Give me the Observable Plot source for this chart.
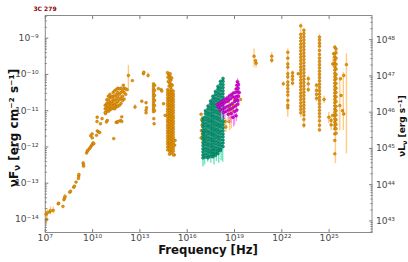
<!DOCTYPE html>
<html><head><meta charset="utf-8">
<script src="https://cdn.jsdelivr.net/npm/d3@7"></script>
<script src="https://cdn.jsdelivr.net/npm/@observablehq/plot@0.6"></script>
<style>body{margin:0;background:#fff}svg{font-family:"DejaVu Sans",sans-serif}</style>
</head><body><div id="chart"></div>
<script>
// ---- labels & ticks ----
const title = "3C 279";
const xLabel = "Frequency [Hz]";
const xTickExps = [7, 10, 13, 16, 19, 22, 25];
const yTickExps = [-14, -13, -12, -11, -10, -9];
const lumTickExps = [43, 44, 45, 46, 47, 48];
const lumOffsetLog = 57.04; // log10(4 pi d^2)

// ---- data (log10 nu, log10 nuFnu) ----
const orangeRadioPts = [[7.08,-14.0],[7.05,-13.86],[7.12,-13.82],[7.28,-13.79],[7.32,-13.76],[7.5,-13.75],[7.82,-13.57],[7.85,-13.55],[8.12,-13.64],[8.18,-13.46],[8.22,-13.41],[8.26,-13.37],[8.55,-13.25],[8.6,-13.22],[8.8,-13.11],[8.85,-13.08],[8.95,-12.97],[9.1,-12.87],[9.12,-12.8],[9.13,-12.76],[9.4,-12.44],[9.42,-12.49],[9.43,-12.53],[9.62,-12.17],[9.66,-12.12],[9.7,-12.09],[9.8,-12.05],[9.86,-12.01],[9.92,-11.97],[9.98,-11.93],[10.03,-11.89],[10.08,-11.91],[9.88,-11.69],[9.97,-11.64],[9.98,-11.75],[10.25,-11.68],[10.3,-11.56],[10.39,-11.59],[10.45,-11.6],[10.28,-11.3],[10.29,-11.18],[10.5,-11.36],[10.6,-11.22],[10.82,-11.08],[10.93,-11.27],[10.88,-11.31],[11.34,-11.77],[11.5,-11.32],[11.56,-11.32],[11.62,-11.3],[11.77,-11.27],[11.85,-11.17],[11.85,-11.3]];
const orangeMmCols = [[10.8,[-11.05,-10.95,-10.85]],[10.9,[-11.0,-10.9,-10.8,-10.7]],[11.0,[-11.02,-10.92,-10.82,-10.72,-10.6]],[11.1,[-10.98,-10.88,-10.78,-10.65,-10.55]],[11.2,[-10.95,-10.85,-10.75,-10.62]],[11.3,[-10.92,-10.8,-10.7,-10.6,-10.5]],[11.4,[-10.95,-10.85,-10.72,-10.6,-10.45]],[11.5,[-10.9,-10.8,-10.68,-10.55,-10.42]],[11.6,[-10.88,-10.75,-10.62,-10.5,-10.38]],[11.7,[-10.85,-10.7,-10.55,-10.4]],[11.8,[-10.8,-10.65,-10.5,-10.38]],[11.9,[-10.72,-10.6,-10.45]],[12.0,[-10.68,-10.5,-10.38]],[12.1,[-10.55,-10.4]],[12.2,[-10.42]]];
const orangeIrPts = [[12.27,-10.03],[12.52,-10.17],[11.95,-10.3],[12.69,-10.9],[13.22,-9.98],[13.25,-9.94],[13.52,-10.03],[13.12,-10.74],[13.39,-10.78],[13.39,-10.99],[13.39,-11.06],[13.42,-10.92],[13.88,-11.22],[13.9,-11.36],[14.17,-10.39],[14.35,-10.42],[14.39,-10.46],[14.5,-10.81],[14.6,-11.13],[14.75,-9.95],[14.82,-10.0],[14.9,-10.04],[14.78,-10.08],[14.88,-10.12],[14.96,-10.16],[14.8,-10.2],[14.9,-10.24],[15.0,-10.28],[14.85,-10.32],[14.95,-10.36],[15.05,-10.3],[14.92,-9.98],[15.02,-10.1],[15.23,-11.82],[15.2,-11.95],[15.18,-12.22]];
const orangeOptCols = [[13.86,[-10.26,-10.33,-10.4,-10.47,-10.54,-10.61,-10.68,-10.75,-10.82,-10.89,-10.96,-11.03]],[13.93,[-10.3,-10.44,-10.58,-10.72,-10.86,-11.0]],[14.76,[-10.42,-10.5,-10.57,-10.65,-10.72,-10.8,-10.87,-10.95,-11.02,-11.1,-11.17,-11.25,-11.32,-11.4,-11.47,-11.55,-11.62,-11.7,-11.77,-11.85,-11.92,-12.0,-12.08]],[14.88,[-10.46,-10.54,-10.61,-10.69,-10.76,-10.84,-10.91,-10.99,-11.06,-11.14,-11.21,-11.29,-11.36,-11.44,-11.51,-11.59,-11.66,-11.74,-11.81,-11.89,-11.96,-12.04,-12.12,-12.2]],[15.0,[-10.42,-10.5,-10.57,-10.65,-10.72,-10.8,-10.87,-10.95,-11.02,-11.1,-11.17,-11.25,-11.32,-11.4,-11.47,-11.55,-11.62,-11.7,-11.77,-11.85,-11.92,-12.0,-12.08,-12.16]],[15.12,[-10.46,-10.54,-10.61,-10.69,-10.76,-10.84,-10.91,-10.99,-11.06,-11.14,-11.21,-11.29,-11.36,-11.44,-11.51,-11.59,-11.66,-11.74,-11.81,-11.89,-11.96,-12.04,-12.12,-12.22]]];
const orangeXrayPts = [[16.88,-11.1],[16.92,-11.25],[16.95,-11.4],[16.9,-11.55],[16.97,-11.65],[16.88,-11.75],[17.1,-11.82],[16.98,-11.3],[17.05,-11.6],[17.68,-12.1],[18.6,-10.75],[18.68,-10.9],[18.72,-11.05],[18.78,-11.2],[18.65,-11.3],[18.85,-11.0],[18.9,-10.85],[18.4,-11.3],[18.45,-11.45],[19.0,-10.7],[19.1,-10.85],[19.38,-10.69]];
const gammaPts = [[20.24,-9.5],[20.37,-9.69],[20.33,-9.62],[21.36,-9.5],[21.36,-9.61],[22.1,-10.26],[23.04,-9.98],[23.68,-10.12],[23.68,-10.26],[23.68,-10.42],[24.68,-10.69],[25.23,-9.71],[25.29,-9.43],[25.72,-10.12],[25.93,-10.03],[26.1,-9.73],[25.76,-10.58],[25.85,-11.0],[25.93,-11.09],[25.68,-10.86],[24.98,-11.18],[25.13,-11.27],[25.13,-11.39],[25.23,-11.13]];
const gammaCols = [[22.38,[-9.39,-9.55,-9.71,-9.8,-9.98,-10.07,-10.21,-10.3,-10.39,-10.48,-10.57,-10.72,-10.85,-10.92]],[22.68,[-9.96,-10.05,-10.14,-10.24]],[24.2,[-10.3,-10.44,-10.55,-10.66]],[23.2,[-8.66,-8.9,-8.99,-9.08,-9.17,-9.26,-9.35,-9.44,-9.53,-9.62,-9.71,-9.8,-9.89,-9.98,-10.07,-10.16,-10.25,-10.34,-10.43,-10.52,-10.61,-10.7,-10.79,-10.88,-10.97,-11.06]],[23.4,[-8.78,-8.87,-8.96,-9.05,-9.14,-9.23,-9.32,-9.41,-9.5,-9.59,-9.68,-9.77,-9.86,-9.95,-10.04,-10.13,-10.22,-10.31,-10.4,-10.49,-10.58,-10.67,-10.76,-10.85,-10.94,-11.03,-11.12,-11.24,-11.4]],[24.39,[-8.97,-9.05,-9.14,-9.22,-9.34,-9.45,-9.55,-9.64,-9.73,-9.82,-9.91,-10.0,-10.09,-10.18,-10.27,-10.36,-10.45,-10.54,-10.63,-10.72,-10.81,-10.9,-10.99,-11.08,-11.17,-11.28,-11.4,-11.53]],[25.36,[-9.25,-9.43,-9.52,-9.61,-9.7,-9.79,-9.88,-9.97,-10.06,-10.15,-10.24,-10.33,-10.42,-10.51,-10.6,-10.69,-10.78,-10.87,-10.96,-11.05,-11.14,-11.23,-11.32,-11.41,-11.5,-11.64,-11.82,-12.19]],[25.44,[-9.3,-9.4,-9.55,-9.72,-9.85,-10.0,-10.12,-10.25,-10.38,-10.5,-10.62,-10.75,-10.88,-11.0,-11.12,-11.25,-11.38,-11.5,-11.62]]];
const orangeErr = [[7.08,-14.12,-13.88],[7.12,-13.95,-13.7],[7.32,-13.88,-13.66],[7.5,-13.85,-13.66],[8.2,-13.5,-13.32],[8.24,-13.48,-13.3],[12.27,-10.39,-9.75],[13.52,-10.1,-9.95],[12.69,-10.97,-10.83],[17.05,-12.05,-11.5],[18.7,-11.55,-10.9],[18.8,-11.5,-11.0],[18.45,-11.6,-11.2],[20.24,-9.8,-9.3],[20.37,-9.82,-9.6],[21.36,-9.7,-9.4],[22.38,-11.18,-9.3],[22.1,-10.32,-10.2],[22.68,-10.32,-9.9],[23.2,-11.2,-8.6],[23.4,-11.5,-8.75],[24.39,-11.6,-8.9],[25.4,-12.46,-9.2],[25.68,-11.55,-10.17],[25.9,-11.55,-9.94],[26.1,-12.19,-9.43],[24.98,-11.35,-11.05],[25.13,-11.55,-11.15],[25.25,-9.8,-9.5],[24.2,-10.75,-10.25],[24.68,-10.8,-10.6],[23.68,-10.5,-10.05]];
const greenCols = [[17.0,[-11.2,-11.28,-11.37,-11.45,-11.54,-11.62,-11.71,-11.79,-11.88,-11.96,-12.05,-12.13,-12.22,-12.3]],[17.16,[-11.0,-11.08,-11.17,-11.25,-11.34,-11.42,-11.51,-11.59,-11.68,-11.76,-11.85,-11.93,-12.02,-12.1,-12.19,-12.28]],[17.32,[-10.87,-10.95,-11.04,-11.12,-11.21,-11.29,-11.38,-11.46,-11.55,-11.63,-11.72,-11.8,-11.89,-11.97,-12.06,-12.14,-12.23,-12.3]],[17.48,[-10.73,-10.81,-10.9,-10.98,-11.07,-11.15,-11.24,-11.32,-11.41,-11.49,-11.58,-11.66,-11.75,-11.83,-11.92,-12.0,-12.09,-12.17,-12.26]],[17.63,[-10.6,-10.68,-10.77,-10.85,-10.94,-11.02,-11.11,-11.19,-11.28,-11.36,-11.45,-11.53,-11.62,-11.7,-11.79,-11.87,-11.96,-12.04,-12.13,-12.21,-12.27]],[17.79,[-10.47,-10.55,-10.64,-10.72,-10.81,-10.89,-10.98,-11.06,-11.15,-11.23,-11.32,-11.4,-11.49,-11.57,-11.66,-11.74,-11.83,-11.91,-12.0,-12.08,-12.17,-12.23]],[17.95,[-10.33,-10.41,-10.5,-10.58,-10.67,-10.75,-10.84,-10.92,-11.01,-11.09,-11.18,-11.26,-11.35,-11.43,-11.52,-11.6,-11.69,-11.77,-11.86,-11.94,-12.03,-12.11,-12.18]],[18.11,[-10.19,-10.27,-10.36,-10.44,-10.53,-10.61,-10.7,-10.78,-10.87,-10.95,-11.04,-11.12,-11.21,-11.29,-11.38,-11.46,-11.55,-11.63,-11.72,-11.8,-11.89,-11.97,-12.06,-12.1]],[18.27,[-10.11,-10.19,-10.28,-10.36,-10.45,-10.53,-10.62,-10.7,-10.79,-10.87,-10.96,-11.04,-11.13,-11.21,-11.3,-11.38,-11.47,-11.55,-11.64,-11.72,-11.81,-11.89,-11.99]]];
const greenErr = [[17.0,-12.55,-12.15],[17.1,-12.5,-12.2],[17.3,-12.42,-12.2],[17.5,-12.45,-12.15],[17.7,-12.5,-12.1],[17.85,-12.4,-12.1],[18.0,-12.45,-12.0],[18.15,-12.38,-11.95],[18.25,-12.42,-11.9]];
const magentaPts = [[17.92,-10.83],[18.05,-10.8],[18.17,-10.76],[18.3,-10.72],[18.43,-10.68],[18.55,-10.64],[18.68,-10.59],[18.81,-10.55],[18.93,-10.51],[17.98,-10.9],[18.1,-10.86],[18.23,-10.83],[18.36,-10.79],[18.49,-10.75],[18.62,-10.71],[18.75,-10.67],[18.88,-10.62],[18.1,-10.98],[18.25,-10.95],[18.4,-10.92],[18.55,-10.88],[18.7,-10.84],[18.85,-10.8],[19.0,-10.75],[19.15,-10.7],[18.3,-11.05],[18.45,-11.02],[18.6,-10.98],[18.75,-10.95],[18.9,-10.92],[19.05,-10.88],[19.2,-10.82],[18.6,-11.1],[18.8,-11.08],[19.0,-11.02],[19.15,-10.98],[18.9,-11.18],[19.1,-11.14],[19.0,-10.62],[19.05,-10.5],[19.1,-10.4],[19.15,-10.3],[19.18,-10.2],[19.15,-10.6],[19.2,-10.48],[19.22,-10.38],[19.25,-10.28],[19.25,-10.6],[19.3,-10.5],[19.2,-10.72],[19.08,-10.7]];
const magentaErr = [[18.2,-11.25,-10.9],[18.4,-11.2,-10.85],[18.6,-11.3,-10.95],[18.8,-11.35,-11.0],[19.0,-11.4,-11.0],[19.12,-11.3,-10.95],[19.2,-10.9,-10.12],[19.28,-10.85,-10.2],[18.95,-11.45,-11.1]];

// ---- build tables ----
const P = (a, b) => ({nu: 10 ** a, f: 10 ** b});
const fromCols = cols => cols.flatMap(([a, fs]) => fs.map(b => P(a, b)));
const fromPts = pts => pts.map(([a, b]) => P(a, b));
const fromErr = es => es.map(([a, lo, hi]) => ({nu: 10 ** a, lo: 10 ** lo, hi: 10 ** hi}));
const orange = [...fromPts(orangeRadioPts), ...fromCols(orangeMmCols), ...fromPts(orangeIrPts), ...fromCols(orangeOptCols), ...fromPts(orangeXrayPts), ...fromPts(gammaPts), ...fromCols(gammaCols)];
const green = fromCols(greenCols);
const magenta = fromPts(magentaPts);

const supMap = {"-":"⁻","0":"⁰","1":"¹","2":"²","3":"³","4":"⁴","5":"⁵","6":"⁶","7":"⁷","8":"⁸","9":"⁹"};
const sup = s => String(s).split("").map(c => supMap[c] ?? c).join("");
const pow10 = d => "10" + sup(Math.round(Math.log10(d)));

const yMinor = [], lumMinor = [];
for (let e = -15; e <= -9; e++) for (let m = 2; m <= 9; m++) yMinor.push(m * 10 ** e);
for (let e = 42; e <= 48; e++) for (let m = 2; m <= 9; m++) lumMinor.push(10 ** (Math.log10(m) + e - lumOffsetLog));
const yDom = [10 ** -14.36, 10 ** -8.374];
const inDom = v => v >= yDom[0] && v <= yDom[1];
const lumTicks = lumTickExps.map(e => ({e, y: 10 ** (e - lumOffsetLog)}));

const axisStyle = {stroke: "#808080", fill: "#4a4a4a", fontSize: 9.2, fontWeight: "normal", label: null};
const plot = Plot.plot({
  width: 408, height: 262,
  marginLeft: 44.8, marginRight: 36.5, marginTop: 15, marginBottom: 30,
  x: {type: "log", domain: [1e7, 10 ** 27.72]},
  y: {type: "log", domain: yDom},
  style: {background: "white", fontFamily: "DejaVu Sans"},
  marks: [
    Plot.frame({stroke: "#8a8a8a"}),
    Plot.ruleX(fromErr(orangeErr), {x: "nu", y1: "lo", y2: "hi", stroke: "#ffcc80", strokeWidth: 1.4}),
    Plot.dot(orange, {x: "nu", y: "f", r: 1.45, fill: "#e89400", stroke: "#9a5c00", strokeWidth: 0.35}),
    Plot.ruleX(fromErr(greenErr), {x: "nu", y1: "lo", y2: "hi", stroke: "#6fe3bd", strokeWidth: 1.4}),
    Plot.dot(green, {x: "nu", y: "f", r: 1.5, fill: "#00a07a", stroke: "#004d3a", strokeWidth: 0.35}),
    Plot.ruleX(fromErr(magentaErr), {x: "nu", y1: "lo", y2: "hi", stroke: "#ff8cff", strokeWidth: 1.4}),
    Plot.dot(magenta, {x: "nu", y: "f", r: 1.5, fill: "#e000e0", stroke: "#700070", strokeWidth: 0.35}),
    Plot.axisX(xTickExps.map(e => 10 ** e), {...axisStyle, anchor: "bottom", tickSize: -3, tickPadding: 5, tickFormat: pow10}),
    Plot.axisX(xTickExps.map(e => 10 ** e), {...axisStyle, anchor: "top", tickSize: -3, fill: "none"}),
    Plot.axisY(yTickExps.map(e => 10 ** e), {...axisStyle, anchor: "left", tickSize: -3.5, tickPadding: 10, tickFormat: pow10}),
    Plot.axisY(yMinor.filter(inDom), {...axisStyle, anchor: "left", tickSize: -2, fill: "none"}),
    Plot.axisY(lumTicks.map(d => d.y), {...axisStyle, anchor: "right", tickSize: -3.5, fill: "none"}),
    Plot.axisY(lumMinor.filter(inDom), {...axisStyle, anchor: "right", tickSize: -2, fill: "none"}),
    Plot.text(lumTicks, {y: "y", text: d => "10" + sup(d.e), frameAnchor: "right", dx: 4, textAnchor: "start", fill: "#4a4a4a", fontSize: 9.2})
  ]
});
document.getElementById("chart").append(plot);

const svg = d3.select(plot);
const g = svg.append("g").attr("font-family", "DejaVu Sans").attr("font-weight", "bold").attr("fill", "#111");
g.append("text").attr("x", 45).attr("y", 11).attr("fill", "#8b0000").attr("font-size", 6).text(title);
g.append("text").attr("x", 208).attr("y", 253.5).attr("text-anchor", "middle").attr("font-size", 11.7).text(xLabel);
const yl = g.append("text").attr("transform", "translate(17.5,128) rotate(-90)").attr("text-anchor", "middle").attr("font-size", 12);
yl.append("tspan").text("νF");
yl.append("tspan").attr("font-size", 8.5).attr("dy", 2.5).text("ν");
yl.append("tspan").attr("dy", -2.5).text(" [erg cm⁻² s⁻¹]");
const rl = g.append("text").attr("transform", "translate(405,126) rotate(-90)").attr("text-anchor", "middle").attr("font-size", 9);
rl.append("tspan").text("νL");
rl.append("tspan").attr("font-size", 6.5).attr("dy", 2).text("ν");
rl.append("tspan").attr("dy", -2).text(" [erg s⁻¹]");
</script></body></html>
